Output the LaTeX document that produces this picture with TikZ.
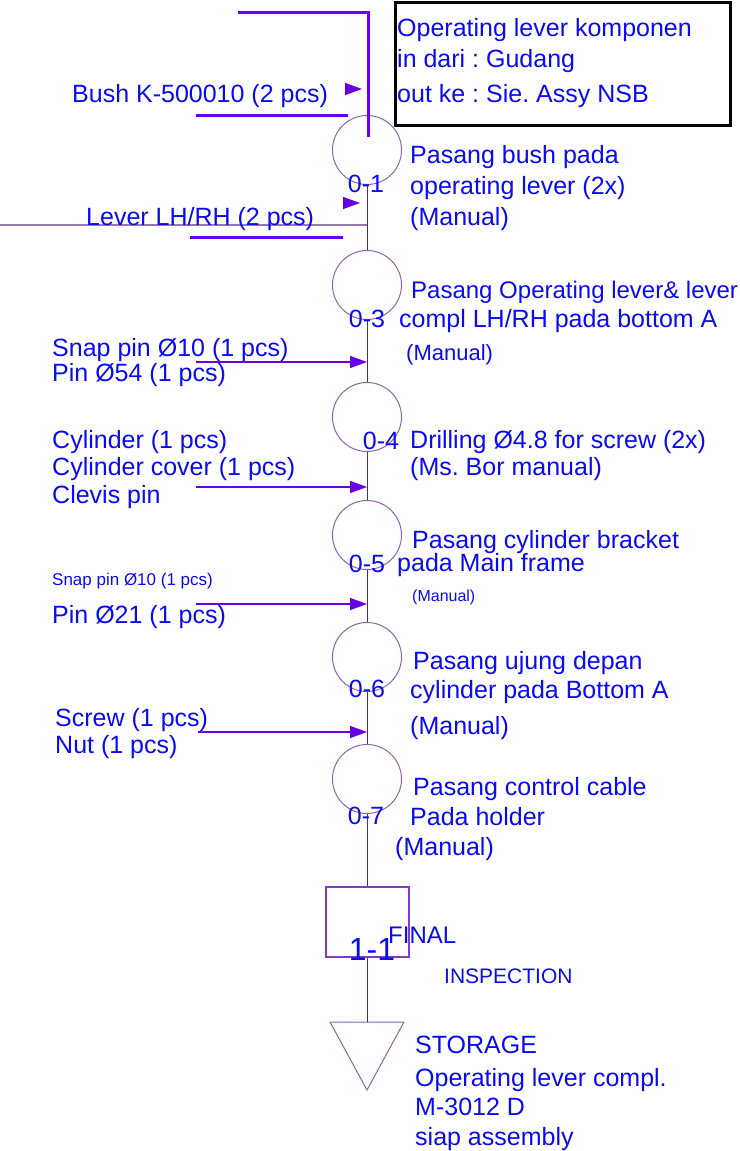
\documentclass[tikz,border=0pt]{standalone}
\usepackage{fontspec}
\setmainfont{Liberation Sans}
\usetikzlibrary{arrows.meta}

\definecolor{opblue}{RGB}{10,10,245}
\definecolor{feedviolet}{RGB}{105,0,245}
\definecolor{flowpurple}{RGB}{80,40,150}
\definecolor{ringpurple}{RGB}{140,100,170}
\definecolor{headpurple}{RGB}{105,0,225}
\definecolor{leverpurple}{RGB}{150,120,175}

\newcommand{\fsz}[1]{\fontsize{#1}{#1}\selectfont}

\tikzset{
  txt/.style={anchor=base west, inner sep=0pt, text=opblue, font=\fsz{25}},
  num/.style={anchor=base, inner sep=0pt, text=opblue, font=\fsz{25}},
  opcircle/.style={circle, draw=ringpurple, line width=1pt, minimum size=69pt, inner sep=0pt},
  inspbox/.style={draw=ringpurple!60!feedviolet, line width=2pt, minimum width=83pt, minimum height=70pt, inner sep=0pt},
  hdrbox/.style={draw=black, line width=3pt, minimum width=335pt, minimum height=123pt, inner sep=0pt},
  feedline/.style={feedviolet, line width=3pt},
  flowline/.style={flowpurple, line width=1pt},
  partarrow/.style={headpurple, line width=1.3pt, -{Triangle[length=17pt,width=12pt]}}
}

\frenchspacing

\begin{document}
\begin{tikzpicture}[x=1pt,y=-1pt]
  \useasboundingbox (0,0) rectangle (739,1151);

  % header
  \node [hdrbox] (hdr) at (562.5,63.5) {};
  \node [txt] (hdr1) at (397,36) {Operating lever komponen};
  \node [txt] (hdr2) at (397,67) {in dari : Gudang};
  \node [txt] (hdr3) at (397,102) {out ke : Sie. Assy NSB};

  % operations
  \foreach \n/\y in {01/150,03/285,04/417,05/535,06/657,07/779} {
    \node [opcircle] (op\n) at (367,\y) {};
  }
  \node [inspbox] (insp) at (367,922) {};
  \coordinate (stor) at (367,1022);
  \draw [ringpurple, line width=1pt] (330,1022) -- (404,1022) -- (367,1090) -- cycle;

  % flow line
  \coordinate (feedtop) at (238,12);
  \coordinate (feedend) at (368,137);
  \draw [feedline] (feedtop) -| (feedend);
  \draw [feedline] (196,115) -- (348,115);
  \draw [feedline] (190,237) -- (343,237);
  \coordinate (lever) at (0,225);
  \draw [leverpurple, line width=1.3pt] (lever) -- (lever -| op01);
  \draw [flowline] (op01) -- (op03);
  \draw [flowline] (op03) -- (op04);
  \draw [flowline] (op04) -- (op05);
  \draw [flowline] (op05) -- (op06);
  \draw [flowline] (op06) -- (op07);
  \draw [flowline] (op07) -- (insp);
  \draw [flowline] (insp) -- (stor);

  % parts in
  \coordinate (bush) at (345,89);
  \coordinate (levertip) at (343,203);
  \draw [partarrow] (bush) -- ++(17,0);
  \draw [partarrow] (levertip) -- ++(17,0);
  \foreach \n/\y/\x in {03/362/196,04/487/196,05/604/196,06/732/198} {
    \coordinate (pin\n) at (\x,\y);
    \draw [partarrow] (pin\n) -- (pin\n -| op\n);
  }

  \node [txt] (bushtxt) at (72,102) {Bush K-500010 (2 pcs)};
  \node [txt] (levertxt) at (86,225) {Lever LH/RH (2 pcs)};
  \node [txt] (snap1) at (52,356) {Snap pin Ø10 (1 pcs)};
  \node [txt] (pin54) at (52,381) {Pin Ø54 (1 pcs)};
  \node [txt] (cyl) at (52,448) {Cylinder (1 pcs)};
  \node [txt] (cylcov) at (52,475) {Cylinder cover (1 pcs)};
  \node [txt] (clevis) at (52,503) {Clevis pin};
  \node [txt, font=\fsz{17}] (snap2) at (52,585) {Snap pin Ø10 (1 pcs)};
  \node [txt] (pin21) at (52,623) {Pin Ø21 (1 pcs)};
  \node [txt] (screw) at (55,726) {Screw (1 pcs)};
  \node [txt] (nut) at (55,753) {Nut (1 pcs)};

  % numbers
  \node [num] (n01) at (366,192) {0-1};
  \node [num] (n03) at (367,327) {0-3};
  \node [num] (n04) at (381,449) {0-4};
  \node [num] (n05) at (367,572) {0-5};
  \node [num] (n06) at (367,697) {0-6};
  \node [num] (n07) at (366,824) {0-7};
  \node [num, font=\fsz{32}] (n11) at (372,960) {1-1};

  % descriptions
  \node [txt] (d01a) at (410,163) {Pasang bush pada};
  \node [txt] (d01b) at (410,194) {operating lever (2x)};
  \node [txt] (d01c) at (410,225) {(Manual)};
  \node [txt, font=\fsz{24}] (d03a) at (411,298) {Pasang Operating lever\& lever};
  \node [txt] (d03b) at (399,327) {compl LH/RH pada bottom A};
  \node [txt, font=\fsz{22}] (d03c) at (406,360) {(Manual)};
  \node [txt] (d04a) at (410,448) {Drilling Ø4.8 for screw (2x)};
  \node [txt] (d04b) at (410,475) {(Ms. Bor manual)};
  \node [txt] (d05a) at (412,548) {Pasang cylinder bracket};
  \node [txt] (d05b) at (397,571) {pada Main frame};
  \node [txt, font=\fsz{16}] (d05c) at (412,601) {(Manual)};
  \node [txt] (d06a) at (413,669) {Pasang ujung depan};
  \node [txt] (d06b) at (410,698) {cylinder pada Bottom A};
  \node [txt] (d06c) at (410,734) {(Manual)};
  \node [txt] (d07a) at (413,795) {Pasang control cable};
  \node [txt] (d07b) at (410,825) {Pada holder};
  \node [txt] (d07c) at (395,855) {(Manual)};
  \node [txt, font=\fsz{24}] (final) at (388,943) {FINAL};
  \node [txt, font=\fsz{21}] (inspect) at (444,983) {INSPECTION};
  \node [txt] (s1) at (415,1053) {STORAGE};
  \node [txt] (s2) at (415,1086) {Operating lever compl.};
  \node [txt] (s3) at (415,1115) {M-3012 D};
  \node [txt] (s4) at (415,1145) {siap assembly};
\end{tikzpicture}
\end{document}
